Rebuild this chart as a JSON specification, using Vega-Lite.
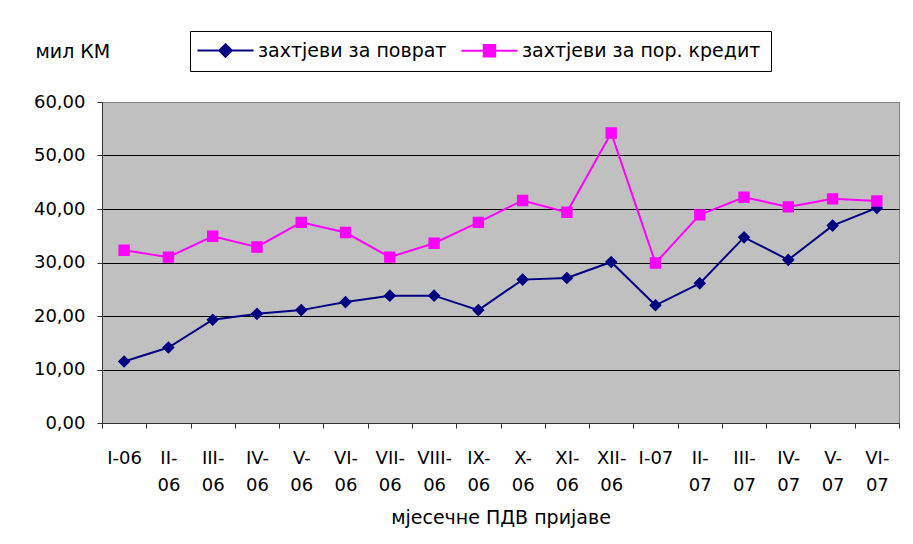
{
  "$schema": "https://vega.github.io/schema/vega-lite/v6.json",
  "width": 797,
  "height": 321,
  "autosize": {"type": "none"},
  "padding": {"left": 102, "top": 102, "right": 14, "bottom": 121},
  "background": "white",
  "config": {
    "font": "DejaVu Sans",
    "view": {"fill": "#C0C0C0", "stroke": "#808080", "strokeWidth": 1},
    "legend": {
      "orient": "none",
      "legendX": 88,
      "legendY": -71,
      "direction": "horizontal",
      "strokeColor": "black",
      "fillColor": "white",
      "padding": 10,
      "labelFontSize": 19,
      "labelColor": "black",
      "labelLimit": 0,
      "symbolSize": 144,
      "symbolStrokeWidth": 2,
      "symbolOffset": 16,
      "labelOffset": 23,
      "columnPadding": 10
    }
  },
  "data": {
    "values": [
      {"month": "I-06", "series": "захтјеви за поврат", "value": 11.5},
      {"month": "II-06", "series": "захтјеви за поврат", "value": 14.1},
      {"month": "III-06", "series": "захтјеви за поврат", "value": 19.3},
      {"month": "IV-06", "series": "захтјеви за поврат", "value": 20.4},
      {"month": "V-06", "series": "захтјеви за поврат", "value": 21.1},
      {"month": "VI-06", "series": "захтјеви за поврат", "value": 22.6},
      {"month": "VII-06", "series": "захтјеви за поврат", "value": 23.8},
      {"month": "VIII-06", "series": "захтјеви за поврат", "value": 23.8},
      {"month": "IX-06", "series": "захтјеви за поврат", "value": 21.1},
      {"month": "X-06", "series": "захтјеви за поврат", "value": 26.8},
      {"month": "XI-06", "series": "захтјеви за поврат", "value": 27.1},
      {"month": "XII-06", "series": "захтјеви за поврат", "value": 30.1},
      {"month": "I-07", "series": "захтјеви за поврат", "value": 22.0},
      {"month": "II-07", "series": "захтјеви за поврат", "value": 26.1},
      {"month": "III-07", "series": "захтјеви за поврат", "value": 34.7},
      {"month": "IV-07", "series": "захтјеви за поврат", "value": 30.5},
      {"month": "V-07", "series": "захтјеви за поврат", "value": 36.9},
      {"month": "VI-07", "series": "захтјеви за поврат", "value": 40.2},
      {"month": "I-06", "series": "захтјеви за пор. кредит", "value": 32.3},
      {"month": "II-06", "series": "захтјеви за пор. кредит", "value": 31.0},
      {"month": "III-06", "series": "захтјеви за пор. кредит", "value": 34.9},
      {"month": "IV-06", "series": "захтјеви за пор. кредит", "value": 32.9},
      {"month": "V-06", "series": "захтјеви за пор. кредит", "value": 37.5},
      {"month": "VI-06", "series": "захтјеви за пор. кредит", "value": 35.6},
      {"month": "VII-06", "series": "захтјеви за пор. кредит", "value": 31.0},
      {"month": "VIII-06", "series": "захтјеви за пор. кредит", "value": 33.6},
      {"month": "IX-06", "series": "захтјеви за пор. кредит", "value": 37.5},
      {"month": "X-06", "series": "захтјеви за пор. кредит", "value": 41.6},
      {"month": "XI-06", "series": "захтјеви за пор. кредит", "value": 39.4},
      {"month": "XII-06", "series": "захтјеви за пор. кредит", "value": 54.2},
      {"month": "I-07", "series": "захтјеви за пор. кредит", "value": 29.9},
      {"month": "II-07", "series": "захтјеви за пор. кредит", "value": 38.9},
      {"month": "III-07", "series": "захтјеви за пор. кредит", "value": 42.2},
      {"month": "IV-07", "series": "захтјеви за пор. кредит", "value": 40.4},
      {"month": "V-07", "series": "захтјеви за пор. кредит", "value": 41.9},
      {"month": "VI-07", "series": "захтјеви за пор. кредит", "value": 41.5}
    ]
  },
  "encoding": {
    "x": {
      "field": "month",
      "type": "ordinal",
      "sort": null,
      "bandPosition": 0.5,
      "scale": {"type": "band", "paddingInner": 0, "paddingOuter": 0},
      "axis": {
        "title": "мјесечне ПДВ пријаве",
        "titleFontSize": 19,
        "titleFontWeight": "normal",
        "titleColor": "black",
        "titleY": 100,
        "titleBaseline": "alphabetic",
        "labelExpr": "datum.label == 'I-06' || datum.label == 'I-07' ? datum.label : [substring(datum.label, 0, indexof(datum.label, '-') + 1), substring(datum.label, indexof(datum.label, '-') + 1)]",
        "labelAngle": 0,
        "labelFontSize": 18,
        "labelColor": "black",
        "labelBaseline": "alphabetic",
        "labelPadding": 35,
        "labelLineHeight": 27,
        "labelOverlap": false,
        "labelLimit": 0,
        "tickBand": "extent",
        "tickSize": 5,
        "tickColor": "#333333",
        "domainColor": "#333333",
        "grid": false
      }
    },
    "y": {
      "field": "value",
      "type": "quantitative",
      "scale": {"domain": [0, 60], "nice": false},
      "axis": {
        "title": "мил КМ",
        "titleAngle": 0,
        "titleAlign": "left",
        "titleBaseline": "alphabetic",
        "titleX": -67,
        "titleY": -45,
        "titleFontSize": 19,
        "titleFontWeight": "normal",
        "titleColor": "black",
        "values": [0, 10, 20, 30, 40, 50, 60],
        "labelExpr": "replace(format(datum.value, '.2f'), '.', ',')",
        "labelFontSize": 18,
        "labelColor": "black",
        "labelPadding": 12,
        "tickSize": 5,
        "tickColor": "#333333",
        "domainColor": "#333333",
        "grid": true,
        "gridColor": {"condition": {"test": "datum.value == 60 || datum.value == 0", "value": "#808080"}, "value": "black"},
        "gridWidth": 1
      }
    }
  },
  "layer": [
    {
      "mark": {"type": "line", "strokeWidth": 2},
      "encoding": {
        "stroke": {
          "field": "series",
          "type": "nominal",
          "scale": {"domain": ["захтјеви за поврат", "захтјеви за пор. кредит"], "range": ["#000080", "#FF00FF"]},
          "legend": {"title": null}
        }
      }
    },
    {
      "mark": {"type": "point", "filled": true, "opacity": 1, "size": 144},
      "encoding": {
        "fill": {
          "field": "series",
          "type": "nominal",
          "scale": {"domain": ["захтјеви за поврат", "захтјеви за пор. кредит"], "range": ["#000080", "#FF00FF"]},
          "legend": {"title": null}
        },
        "shape": {
          "field": "series",
          "type": "nominal",
          "scale": {"domain": ["захтјеви за поврат", "захтјеви за пор. кредит"], "range": ["M-4.667,0H4.667M0,-1.05L1.05,0L0,1.05L-1.05,0Z", "M-4.667,0H4.667M-0.95,-0.95H0.95V0.95H-0.95Z"]},
          "legend": {"title": null}
        }
      }
    }
  ]
}
